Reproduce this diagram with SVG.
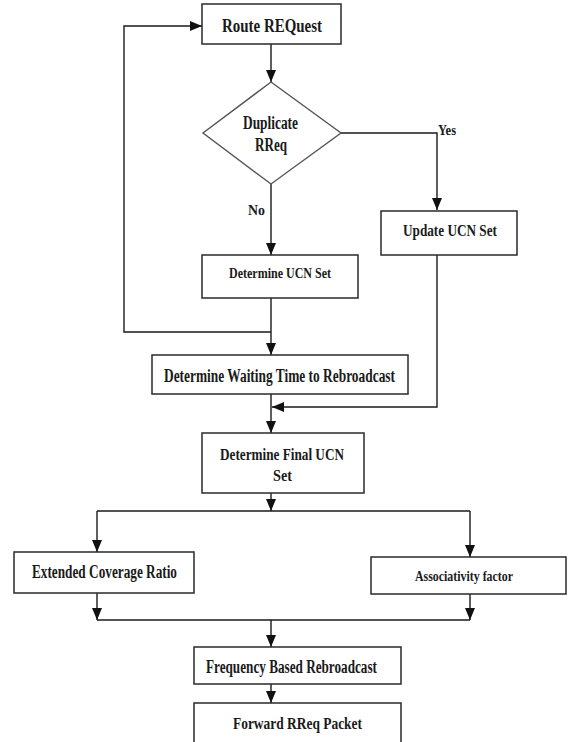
<svg xmlns="http://www.w3.org/2000/svg" width="569" height="742" viewBox="0 0 569 742">
<style>
.box{fill:#fff;stroke:#2a2a2a;stroke-width:1.5}
.dia{fill:#fff;stroke:#555;stroke-width:1.4}
.ln{fill:none;stroke:#1a1a1a;stroke-width:1.4}
.t{font-family:"Liberation Serif","Times New Roman",serif;font-weight:bold;fill:#1a1a1a;text-anchor:middle}
</style>
<defs>
<marker id="ah" markerUnits="userSpaceOnUse" markerWidth="12" markerHeight="10" refX="12" refY="5" orient="auto">
<path d="M0,0 L12,5 L0,10 z" fill="#111"/>
</marker>
</defs>
<rect width="569" height="742" fill="#fff"/>
<g id="connectors">
<path class="ln" d="M271,44 V82" marker-end="url(#ah)"/>
<path class="ln" d="M341,133 H437 V210" marker-end="url(#ah)"/>
<path class="ln" d="M271,184 V255" marker-end="url(#ah)"/>
<path class="ln" d="M271,298 V355" marker-end="url(#ah)"/>
<path class="ln" d="M271,332 H124 V26 H202" marker-end="url(#ah)"/>
<path class="ln" d="M271,394 V433" marker-end="url(#ah)"/>
<path class="ln" d="M437,255 V407 H272" marker-end="url(#ah)"/>
<path class="ln" d="M271,493 V511" marker-end="url(#ah)"/>
<path class="ln" d="M97,511 H470"/>
<path class="ln" d="M97,511 V552" marker-end="url(#ah)"/>
<path class="ln" d="M470,511 V557" marker-end="url(#ah)"/>
<path class="ln" d="M97,593 V620" marker-end="url(#ah)"/>
<path class="ln" d="M470,594 V620" marker-end="url(#ah)"/>
<path class="ln" d="M97,620 H470"/>
<path class="ln" d="M271,620 V647" marker-end="url(#ah)"/>
<path class="ln" d="M271,684 V703" marker-end="url(#ah)"/>
<text class="t" x="447" y="135" font-size="15" textLength="18" lengthAdjust="spacingAndGlyphs">Yes</text>
<text class="t" x="256.5" y="215" font-size="15" textLength="17" lengthAdjust="spacingAndGlyphs">No</text>
</g>
<g id="route-request">
<rect class="box" x="202" y="4" width="139" height="40"/>
<text class="t" x="272" y="32" font-size="19" textLength="100" lengthAdjust="spacingAndGlyphs">Route REQuest</text>
</g>
<g id="duplicate-rreq">
<polygon class="dia" points="271,82 341,133 271,184 203,133"/>
<text class="t" x="270.5" y="129" font-size="18" textLength="55" lengthAdjust="spacingAndGlyphs">Duplicate</text>
<text class="t" x="271" y="151" font-size="18" textLength="32" lengthAdjust="spacingAndGlyphs">RReq</text>
</g>
<g id="update-ucn">
<rect class="box" x="381" y="211" width="136" height="44"/>
<text class="t" x="450" y="236" font-size="17" textLength="94" lengthAdjust="spacingAndGlyphs">Update UCN Set</text>
</g>
<g id="determine-ucn">
<rect class="box" x="202" y="255" width="156" height="43"/>
<text class="t" x="280" y="278" font-size="15" textLength="102" lengthAdjust="spacingAndGlyphs">Determine UCN Set</text>
</g>
<g id="waiting-time">
<rect class="box" x="152" y="355" width="256" height="39"/>
<text class="t" x="279.5" y="382" font-size="18.5" textLength="231" lengthAdjust="spacingAndGlyphs">Determine Waiting Time to Rebroadcast</text>
</g>
<g id="final-ucn">
<rect class="box" x="202" y="433" width="162" height="60"/>
<text class="t" x="282" y="460" font-size="16.5" textLength="124" lengthAdjust="spacingAndGlyphs">Determine Final UCN</text>
<text class="t" x="282.5" y="481" font-size="16.5" textLength="19" lengthAdjust="spacingAndGlyphs">Set</text>
</g>
<g id="extended-coverage">
<rect class="box" x="14" y="552" width="180" height="41"/>
<text class="t" x="104.5" y="578" font-size="18.5" textLength="145" lengthAdjust="spacingAndGlyphs">Extended Coverage Ratio</text>
</g>
<g id="associativity">
<rect class="box" x="371" y="557" width="195" height="37"/>
<text class="t" x="464" y="581" font-size="15" textLength="98" lengthAdjust="spacingAndGlyphs">Associativity factor</text>
</g>
<g id="frequency-rebroadcast">
<rect class="box" x="194" y="647" width="207" height="37"/>
<text class="t" x="291.5" y="673" font-size="18" textLength="171" lengthAdjust="spacingAndGlyphs">Frequency Based Rebroadcast</text>
</g>
<g id="forward-rreq">
<rect class="box" x="194" y="703" width="207" height="42"/>
<text class="t" x="297.5" y="729" font-size="17" textLength="129" lengthAdjust="spacingAndGlyphs">Forward RReq Packet</text>
</g>
</svg>
